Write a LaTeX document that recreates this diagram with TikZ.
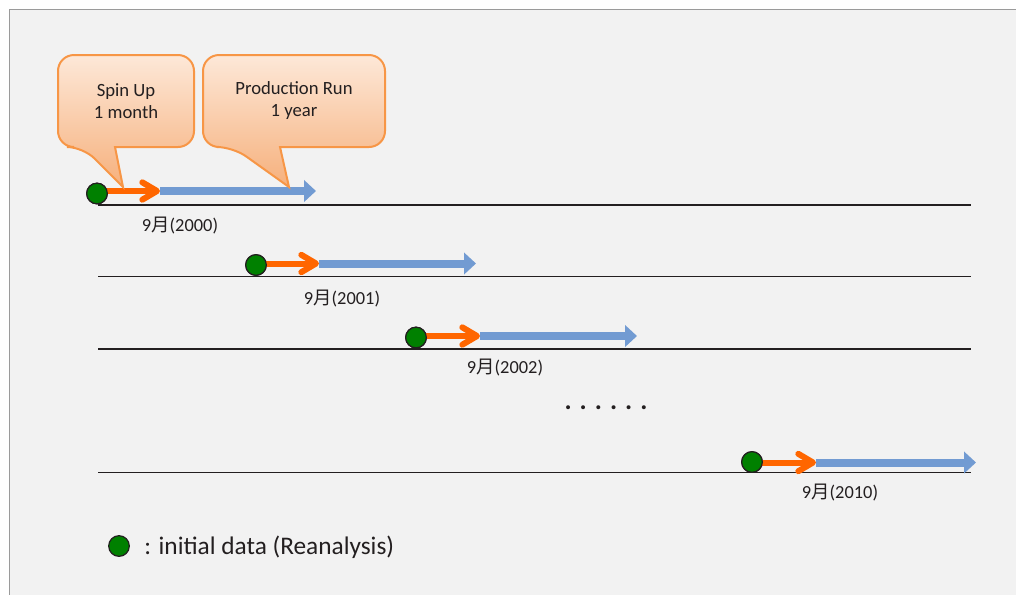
\documentclass[tikz,border=0pt]{standalone}
\usepackage{fontspec}
\setmainfont{Carlito}
\newfontfamily\cjk{Noto Sans CJK JP}
\usetikzlibrary{arrows.meta}
\definecolor{panel}{HTML}{F2F2F2}
\definecolor{frame}{HTML}{9A9A9A}
\definecolor{ink}{HTML}{231F20}
\definecolor{spin}{HTML}{FF6600}
\definecolor{prod}{HTML}{729BD2}
\definecolor{init}{HTML}{008000}
\definecolor{calloutedge}{HTML}{F79646}
\definecolor{callouttop}{HTML}{FDE8D8}
\definecolor{calloutbottom}{HTML}{F6B07C}
\newcommand{\mon}{{\cjk 月}}
\begin{document}
\begin{tikzpicture}[x=0.75pt,y=-0.75pt,
  dot/.style={circle,fill=init,draw=ink,line width=0.9pt,minimum size=15.5pt,inner sep=0pt},
  timeline/.style={draw=ink,line width=1.1pt},
  spinup/.style={draw=spin,line width=4.5pt,shorten <=-4pt,-{Straight Barb[round,length=11pt,width=13pt]}},
  production/.style={draw=prod,line width=6pt,-{Triangle[length=9pt,width=16pt]}},
  year/.style={font=\fontsize{13.8}{16}\selectfont,text=ink,inner sep=0pt},
  callout/.style={draw=calloutedge,line width=1.5pt,top color=callouttop,bottom color=calloutbottom},
  callouttext/.style={font=\fontsize{14}{16.5}\selectfont,text=ink,align=center,inner sep=0pt}
]
\useasboundingbox (0,0) rectangle (1016,594);
% background panel
\fill[panel] (9.5,9.5) rectangle (1020,600);
\draw[frame,line width=1.2pt] (9.5,600) -- (9.5,9.5) -- (1020,9.5);

% time axes
\coordinate (s1) at (98,205);   \coordinate (e1) at (971,205);
\coordinate (s2) at (98,276.5); \coordinate (e2) at (971,276.5);
\coordinate (s3) at (98,349);   \coordinate (e3) at (971,349);
\coordinate (s4) at (98,472.5); \coordinate (e4) at (971,472.5);
\foreach \i in {1,...,4} \draw[timeline] (s\i) -- (e\i);

% run start points and segment ends
\coordinate (o1) at (160,191);   \coordinate (b1) at (316,191);
\coordinate (o2) at (319,263.5); \coordinate (b2) at (476,263.5);
\coordinate (o3) at (480,336);   \coordinate (b3) at (637,336);
\coordinate (o4) at (816,462.5); \coordinate (b4) at (976,462.5);
\node[dot] (c1) at (97,193.5) {};
\node[dot] (c2) at (256,265) {};
\node[dot] (c3) at (416,337.5) {};
\node[dot] (c4) at (752,462) {};

\foreach \i in {1,...,4} {
  \draw[production] (o\i) -- (b\i);
  \draw[spinup] (c\i.east |- o\i) -- (o\i);
}
% redraw the start dots on top of the arrows
\foreach \i in {1,...,4} \node[dot] at (c\i) {};

% year labels
\node[year] (y1) at (180,226) {9\mon(2000)};
\node[year] (y2) at (342,299) {9\mon(2001)};
\node[year] (y3) at (505,368) {9\mon(2002)};
\node[year] (y4) at (840,493) {9\mon(2010)};

% ellipsis between the rows
\node[font=\fontsize{20}{24}\selectfont\bfseries,text=ink,inner sep=0pt,anchor=base] (more) at (606,409) {. . . . . .};

% callouts
\path[callout] (126,55) [rounded corners=12] -- (58,55) -- (58,147) -- (83,147) [sharp corners] -- (123,187) -- (115,147) [rounded corners=12] -- (194,147) -- (194,55) -- cycle;
\node[callouttext] (spintext) at (126,101) {Spin Up\\1 month};
\path[callout] (294,55) [rounded corners=12] -- (203,55) -- (203,147) -- (233,147) [sharp corners] -- (289,187) -- (280,147) [rounded corners=12] -- (385,147) -- (385,55) -- cycle;
\node[callouttext] (prodtext) at (294,101) {Production Run\\1 year};

% legend
\node[dot] (key) at (119,546) {};
\node[anchor=west,font=\fontsize{19}{23}\selectfont,text=ink,inner sep=0pt] (keytext) at (144,547) {: initial data (Reanalysis)};
\end{tikzpicture}
\end{document}
